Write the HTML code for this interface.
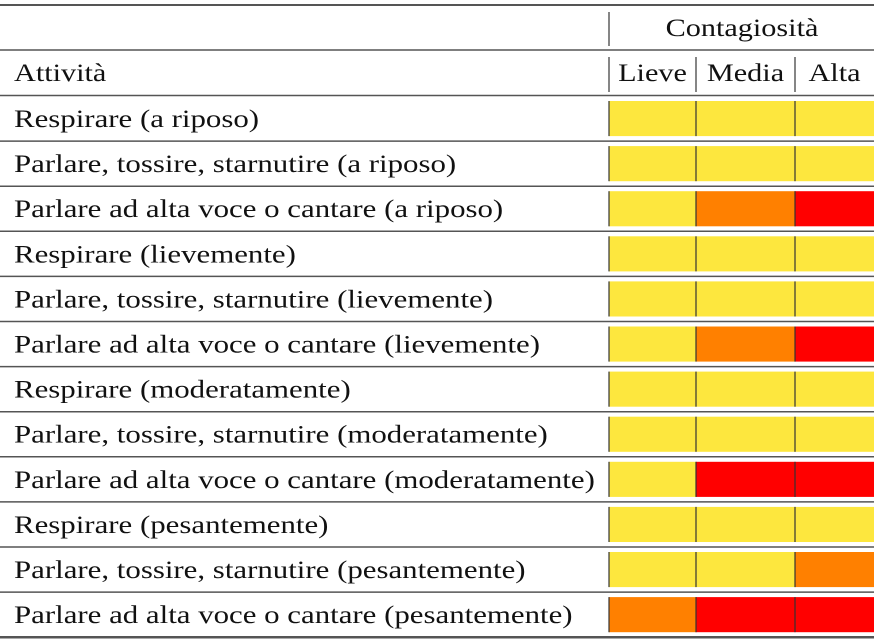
<!DOCTYPE html>
<html><head><meta charset="utf-8"><style>
html,body{margin:0;padding:0;background:#fff}
svg{display:block}
text{font-family:"Liberation Serif",serif;font-size:25px;fill:#111}
</style></head><body>
<svg id="chart" width="874" height="641"></svg>
<script>
const activities = ["Respirare (a riposo)","Parlare, tossire, starnutire (a riposo)","Parlare ad alta voce o cantare (a riposo)","Respirare (lievemente)","Parlare, tossire, starnutire (lievemente)","Parlare ad alta voce o cantare (lievemente)","Respirare (moderatamente)","Parlare, tossire, starnutire (moderatamente)","Parlare ad alta voce o cantare (moderatamente)","Respirare (pesantemente)","Parlare, tossire, starnutire (pesantemente)","Parlare ad alta voce o cantare (pesantemente)"];
const columns = ["Lieve","Media","Alta"];
const lieve = [0,0,0,0,0,0,0,0,0,0,0,1];
const media = [0,0,1,0,0,1,0,0,2,0,0,2];
const alta  = [0,0,2,0,0,2,0,0,2,0,1,2];
const levelColors = ["#fde73e","#ff8000","#ff0000"];

const svg = document.getElementById('chart');
const NS = "http://www.w3.org/2000/svg";
function mk(tag, attrs){const e=document.createElementNS(NS,tag);for(const k in attrs)e.setAttribute(k,attrs[k]);svg.appendChild(e);return e;}
function txt(x,y,s,anchor,sx){sx=sx||1.21;const e=mk('text',{x:x/sx,y:y,transform:'scale('+sx+',1)','text-anchor':anchor||'start'});e.textContent=s;return e;}
const colX = [609,696,795,874];
const rowTop = 96, rowH = 45.1;
function rowY(i){return rowTop + i*rowH;}

let r;
r = mk('line',{x1:0,x2:874,y1:5,y2:5,stroke:'#555','stroke-width':2});


r = mk('line',{x1:0,x2:874,y1:50,y2:50,stroke:'#555','stroke-width':1.5});


r = mk('line',{x1:0,x2:874,y1:95.5,y2:95.5,stroke:'#555','stroke-width':1.5});



r = mk('line',{x1:609,x2:609,y1:12,y2:46,stroke:'#444','stroke-width':1.3});


let t = txt(742,36,"Contagiosità",'middle');


t = txt(14,81,"Attività");


for(let c=0;c<3;c++){
  r = mk('line',{x1:colX[c],x2:colX[c],y1:57,y2:92,stroke:'#444','stroke-width':1.3});
  
  
  t = txt((colX[c]+colX[c+1])/2,81,columns[c],'middle');
  
  
}
const series=[lieve,media,alta];
activities.forEach((a,i)=>{
  const y=rowY(i);
  const lbl=txt(14,y+31,a,'start',1.235);
  
  
  for(let c=0;c<3;c++){
    const cell=mk('rect',{x:colX[c],y:y+5,width:colX[c+1]-colX[c],height:rowH-10,fill:levelColors[series[c][i]]});
    
    
  }
  for(let c=0;c<3;c++){
    const d=mk('line',{x1:colX[c],x2:colX[c],y1:y+5,y2:y+rowH-5,stroke:'#333','stroke-width':1.2});
    
    
  }
  const last=i===activities.length-1;
  const rl=mk('line',{x1:0,x2:874,y1:y+rowH,y2:y+rowH,stroke:'#555','stroke-width':last?2.5:1.5});
  
  
});
</script>
</body></html>
